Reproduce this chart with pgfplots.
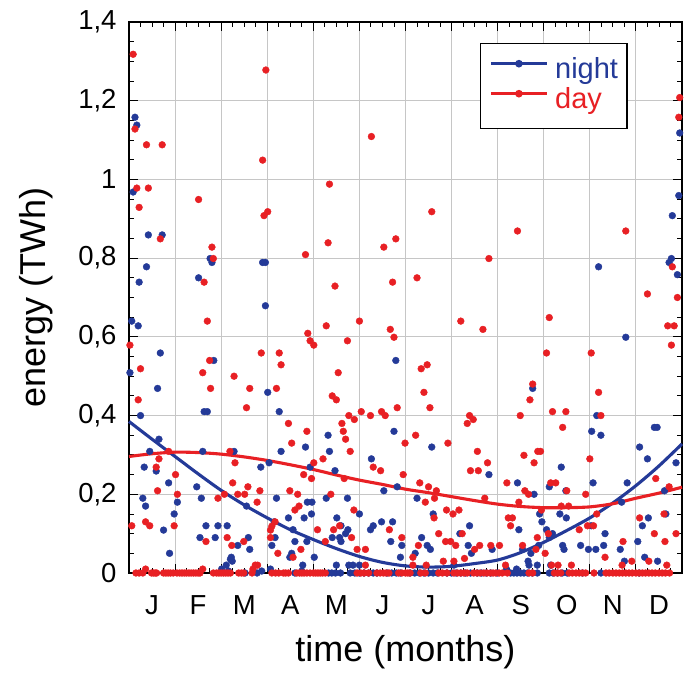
\documentclass[border=0pt]{standalone}
\usepackage{fontspec}
\setmainfont{Liberation Sans}
\usepackage{pgfplots}
\pgfplotsset{compat=1.18}
\definecolor{nightblue}{RGB}{36,58,152}
\definecolor{dayred}{RGB}{232,32,36}

\begin{document}
\begin{tikzpicture}
\useasboundingbox (-129bp,-102bp) rectangle (556bp,573bp);
\begin{axis}[
    at={(0,0)}, anchor=south west,
    width=553bp, height=551bp, scale only axis,
    xmin=0, xmax=12, ymin=0, ymax=1.4,
    clip=false,
    axis line style={black, line width=2.5bp},
    tick align=inside,
    tick style={black, line width=0.9bp},
    major tick length=9bp, minor tick length=5bp,
    xtick={0,1,...,12}, xticklabels={},
    minor x tick num=3,
    extra x ticks={0.5,1.5,...,11.5},
    extra x tick labels={J,F,M,A,M,J,J,A,S,O,N,D},
    extra x tick style={major tick length=0pt, grid=none},
    ytick={0,0.2,...,1.4},
    minor y tick num=3,
    grid=major,
    major grid style={gray!45, line width=0.9bp},
    ticklabel style={font=\fontsize{27.5bp}{30bp}\selectfont},
    xticklabel style={yshift=-19bp},
    yticklabel style={xshift=-9bp, /pgf/number format/.cd, use comma, fixed, assume math mode=true},
    xlabel={time (months)},
    ylabel={energy (TWh)},
    label style={font=\fontsize{36bp}{40bp}\selectfont, inner sep=0pt},
    xlabel style={at={([yshift=-62bp]axis description cs:0.5,0)}, anchor=north},
    ylabel style={at={([xshift=-110bp]axis description cs:0,0.5)}, rotate=0, anchor=north},
    legend style={at={(rel axis cs:0.902,0.962)}, anchor=north east,
        draw=black, line width=1.5bp, inner xsep=9bp, inner ysep=14bp,
        column sep=7bp, row sep=3bp,
        font=\fontsize{29bp}{32bp}\selectfont,
        nodes={inner sep=0pt, text height=21bp, text depth=6bp}},
    legend cell align=left,
    legend image code/.code={\draw[mark repeat=2,mark phase=2,#1] plot coordinates {(0bp,7.5bp) (28bp,7.5bp) (56bp,7.5bp)};},
]
% night scatter
\addplot[only marks, mark=*, mark size=3.4bp, color=nightblue, forget plot] coordinates {
(0.13,1.158) (0.17,1.138) (0.09,0.968) (0.42,0.859) (0.72,0.859) (1.76,0.799) (1.8,0.789) (2.9,0.789) (2.96,0.789) (0.38,0.778) (1.51,0.75) (0.22,0.739)
(11.95,1.118) (11.93,0.959) (11.79,0.908) (10.19,0.778) (11.77,0.799) (11.72,0.789) (11.9,0.758)
(0.06,0.64) (0.2,0.628) (0.68,0.559) (0.02,0.509) (0.62,0.469) (0.25,0.40) (1.84,0.54) (1.63,0.41) (1.7,0.41) (2.96,0.679) (3.01,0.459) (3.26,0.41)
(3.83,0.32) (3.3,0.309) (3.93,0.269) (3.87,0.18) (3.97,0.18) (3.96,0.15) (3.46,0.14) (3.8,0.14) (3.56,0.11) (3.6,0.08) (3.86,0.08) (3.49,0.04)
(3.53,0.05) (3.77,0.02) (3.15,0.13) (3.17,0.09) (3.1,0.07) (3.07,0.01) (3.2,0.19) (2.86,0.269) (3.04,0.28) (2.28,0.309) (2.55,0.17) (2.59,0.09)
(2.36,0.07) (2.62,0.06) (2.13,0.12) (1.93,0.12) (1.87,0.09) (1.67,0.12) (1.54,0.09) (1.57,0.19) (1.47,0.219) (1.6,0.309) (2.22,0.04) (2.24,0.03)
(2.2,0.035) (2.11,0.02) (1.05,0.18) (0.98,0.15) (0.86,0.229) (0.65,0.34) (0.59,0.259) (0.45,0.309) (0.33,0.269) (0.3,0.19) (0.36,0.17) (0.75,0.109) (0.88,0.05)
(2.01,0.01) (2.16,0.005) (2.52,0) (2.78,0) (2.88,0.005) (3.6,0) (3.75,0.005)
(5.79,0.54) (4.32,0.35) (4.35,0.309) (4.47,0.26) (5.26,0.29) (5.75,0.36) (5.82,0.219) (5.53,0.209) (6.57,0.32) (6.25,0.19) (7.81,0.25) (6.6,0.15)
(7.39,0.12) (7.18,0.10) (7.36,0.07) (7.43,0.05) (7.88,0.06) (7.05,0.02) (6.35,0.09) (6.47,0.07) (6.54,0.06) (6.21,0.05) (5.92,0.07) (5.89,0.04)
(5.72,0.13) (5.48,0.13) (5.68,0.08) (5.3,0.12) (5.24,0.11) (5.0,0.15) (4.74,0.19) (4.28,0.19) (4.51,0.14) (4.6,0.12) (4.7,0.10) (4.75,0.11)
(4.6,0.08) (4.57,0.09) (4.41,0.09) (4.02,0.04) (4.5,0.02) (4.77,0.02) (4.86,0.02) (5.0,0.02)
(10.78,0.599) (8.76,0.469) (10.15,0.40) (10.04,0.36) (10.24,0.35) (11.4,0.37) (11.46,0.37) (11.08,0.32) (11.25,0.29) (11.87,0.28) (9.38,0.269)
(8.43,0.229) (9.12,0.219) (10.07,0.229) (10.81,0.229) (11.62,0.209) (8.79,0.20) (9.48,0.209) (10.69,0.18) (8.91,0.15) (9.35,0.15) (11.65,0.15)
(11.27,0.14) (9.49,0.14) (8.96,0.13) (10.03,0.12) (11.14,0.12) (8.46,0.11) (9.06,0.11) (9.19,0.10) (9.12,0.09) (10.33,0.10) (8.54,0.06) (8.89,0.07)
(9.41,0.07) (9.44,0.06) (9.8,0.07) (9.97,0.06) (10.13,0.06) (10.3,0.07) (10.66,0.06) (11.04,0.08) (8.72,0.05) (11.19,0.04) (11.47,0.03) (10.75,0.03)
(8.66,0.03) (8.68,0.02) (8.86,0.02) (9.15,0.02) (8.19,0.01) (8.41,0.01)
(4.33,0) (4.4,0) (4.48,0) (4.59,0) (4.8,0) (4.9,0) (5.0,0) (5.1,0) (5.2,0) (5.3,0) (5.38,0) (5.6,0) (5.7,0) (5.8,0) (5.89,0)
(6.1,0) (6.2,0) (6.3,0) (6.4,0) (6.5,0) (6.6,0) (6.69,0) (6.9,0) (7.0,0) (7.1,0) (7.2,0) (7.3,0) (7.41,0) (7.56,0) (7.65,0) (7.75,0) (7.85,0) (7.99,0)
(8.28,0) (8.35,0) (8.42,0) (8.5,0) (8.57,0) (8.65,0) (8.75,0) (8.86,0) (9.12,0) (9.2,0) (9.3,0) (9.4,0) (9.51,0) (9.84,0) (10.24,0) (11.07,0)
};
% day scatter
\addplot[only marks, mark=*, mark size=3.4bp, color=dayred, forget plot] coordinates {
(0.09,1.318) (2.97,1.278) (0.13,1.128) (0.38,1.088) (0.72,1.088) (2.9,1.049) (0.17,0.978) (0.42,0.978) (1.51,0.949) (0.22,0.929) (3.01,0.918)
(2.93,0.908) (0.68,0.849) (1.8,0.828) (1.83,0.799) (3.83,0.809) (1.63,0.739)
(5.26,1.109) (4.35,0.988) (6.57,0.918) (4.32,0.839) (5.79,0.849) (5.53,0.828) (7.81,0.799) (4.47,0.729) (5.72,0.739) (6.25,0.75)
(11.95,1.208) (11.93,1.158) (8.43,0.869) (10.78,0.869) (11.79,0.778) (11.25,0.709) (11.9,0.70)
(0.02,0.579) (0.25,0.519) (0.2,0.44) (1.7,0.64) (1.75,0.54) (1.6,0.509) (1.77,0.469) (2.28,0.50) (2.62,0.469) (2.55,0.42) (2.87,0.559) (3.26,0.559)
(3.3,0.529) (3.2,0.469) (3.88,0.609) (3.93,0.59) (4.01,0.579) (3.46,0.38) (3.86,0.36) (3.53,0.33) (4.01,0.28) (3.79,0.25) (3.96,0.24) (3.49,0.209)
(3.66,0.20) (3.69,0.17) (3.6,0.16) (3.73,0.06) (3.56,0.04) (3.23,0.05) (3.07,0.109) (3.1,0.119) (3.17,0.13) (3.07,0.09) (2.84,0.209) (2.78,0.18)
(2.58,0.219) (2.51,0.20) (2.36,0.20) (2.25,0.229) (2.3,0.28) (2.19,0.309) (2.49,0.08) (2.23,0.07) (2.13,0.09) (1.67,0.08) (1.93,0.19) (2.07,0.20)
(2.79,0.02) (2.74,0.02) (2.69,0.01) (1.01,0.25) (1.05,0.20) (0.98,0.12) (0.86,0.309) (0.65,0.29) (0.59,0.269) (0.62,0.209) (0.36,0.13) (0.45,0.12)
(0.06,0.12) (0.36,0.01) (1.6,0.01)
(4.28,0.628) (5.0,0.64) (4.74,0.59) (5.67,0.619) (5.75,0.599) (4.54,0.509) (4.41,0.45) (4.5,0.44) (6.34,0.519) (6.47,0.529) (6.4,0.459) (6.53,0.42)
(5.82,0.42) (7.2,0.64) (7.68,0.619) (4.77,0.40) (4.89,0.39) (5.04,0.41) (5.24,0.40) (5.48,0.41) (5.56,0.40) (4.62,0.38) (4.65,0.36) (4.7,0.34)
(4.8,0.309) (4.21,0.29) (4.67,0.24) (5.3,0.269) (5.46,0.26) (5.99,0.33) (6.22,0.35) (5.95,0.25) (6.31,0.229) (6.5,0.219) (6.67,0.209) (6.63,0.19)
(6.43,0.18) (6.92,0.33) (7.39,0.40) (7.34,0.38) (7.47,0.39) (7.56,0.309) (7.78,0.28) (7.41,0.26) (7.58,0.26) (7.72,0.19) (6.62,0.14) (6.89,0.16)
(7.03,0.15) (7.16,0.16) (7.23,0.10) (6.72,0.10) (6.87,0.08) (6.98,0.08) (7.09,0.07) (7.5,0.06) (7.61,0.07) (7.85,0.07) (6.82,0.03) (7.05,0.03)
(7.28,0.037) (6.28,0.07) (6.16,0.04) (6.45,0.02) (6.16,0.02) (5.92,0.09) (5.65,0.11) (4.88,0.16) (4.38,0.20) (4.57,0.12) (4.44,0.11) (4.09,0.11)
(4.26,0.08) (4.83,0.09) (4.95,0.06) (5.13,0.06) (5.13,0.02)
(9.12,0.649) (11.69,0.628) (11.83,0.628) (11.77,0.579) (9.06,0.559) (10.03,0.559) (8.76,0.48) (8.7,0.44) (10.19,0.459) (8.49,0.40) (9.19,0.41)
(9.48,0.41) (10.24,0.40) (9.41,0.37) (8.57,0.299) (8.87,0.309) (8.93,0.309) (8.79,0.28) (10.0,0.29) (8.2,0.229) (9.15,0.229) (9.26,0.229) (11.43,0.24)
(11.72,0.219) (8.59,0.209) (8.67,0.20) (9.5,0.209) (9.91,0.20) (8.46,0.18) (9.38,0.17) (9.54,0.17) (8.95,0.16) (10.15,0.15) (11.61,0.15) (8.23,0.14)
(8.32,0.14) (11.08,0.14) (8.28,0.12) (9.95,0.12) (10.08,0.12) (9.1,0.10) (9.77,0.11) (11.4,0.10) (11.87,0.10) (8.86,0.09) (8.04,0.07) (8.54,0.07)
(10.72,0.08) (11.63,0.08) (8.83,0.06) (9.03,0.05) (10.33,0.04) (11.28,0.03) (10.91,0.03) (8.17,0.02) (9.17,0.02) (9.31,0.02) (9.6,0.02) (10.7,0.02) (11.67,0.02)
(0.15,0) (0.22,0) (0.3,0) (0.49,0) (0.53,0) (0.57,0) (0.6,0) (0.75,0) (0.8,0) (0.85,0) (0.9,0) (0.96,0) (1.04,0) (1.1,0) (1.15,0) (1.2,0) (1.25,0)
(1.3,0) (1.35,0) (1.4,0) (1.45,0) (1.5,0) (1.54,0) (1.83,0) (1.9,0) (1.95,0) (2.0,0) (2.05,0) (2.1,0) (2.15,0) (2.2,0) (2.38,0) (2.44,0) (2.49,0)
(2.67,0) (3.1,0) (3.18,0) (3.25,0) (3.35,0) (3.4,0) (3.46,0) (3.64,0) (3.7,0) (3.75,0) (3.8,0) (3.86,0) (3.93,0) (4.0,0) (4.05,0) (4.1,0) (4.15,0)
(4.2,0) (4.26,0) (4.95,0) (5.03,0) (5.1,0) (5.2,0) (5.38,0) (5.45,0) (5.52,0) (5.58,0) (5.64,0) (5.85,0) (5.92,0) (6.0,0) (6.05,0) (6.1,0) (6.33,0)
(6.43,0) (6.72,0) (6.8,0) (6.9,0) (7.05,0) (7.13,0) (7.2,0) (7.27,0) (7.34,0) (7.48,0) (7.55,0) (7.62,0) (7.7,0) (7.77,0) (7.84,0) (7.9,0) (7.96,0)
(8.03,0) (8.1,0) (8.21,0) (8.68,0) (8.76,0) (9.23,0) (9.3,0) (9.37,0) (9.55,0) (9.62,0) (9.7,0) (9.77,0) (9.84,0) (9.91,0) (10.09,0) (10.35,0)
(10.42,0) (10.5,0) (10.57,0) (10.64,0) (10.71,0) (10.78,0) (10.85,0) (10.92,0) (11.0,0) (11.07,0) (11.14,0) (11.21,0) (11.28,0) (11.35,0) (11.42,0)
(11.5,0) (11.57,0) (11.64,0) (11.73,0)
};
% fitted curves
\addplot[nightblue, line width=3.1bp, smooth, forget plot] coordinates {
(0,0.385) (0.5,0.34) (1,0.296) (1.5,0.252) (2,0.21) (2.5,0.173) (3,0.14) (3.5,0.11) (4,0.085) (4.5,0.062) (5,0.042) (5.5,0.027) (6,0.018)
(6.5,0.015) (7,0.017) (7.5,0.024) (8,0.033) (8.5,0.052) (9,0.078) (9.5,0.108) (10,0.14) (10.5,0.178) (11,0.222) (11.5,0.272) (12,0.328)
};
\addplot[dayred, line width=3.1bp, smooth, forget plot] coordinates {
(0,0.296) (0.5,0.303) (1,0.307) (1.5,0.306) (2,0.302) (2.5,0.295) (3,0.286) (3.5,0.275) (4,0.263) (4.5,0.249) (5,0.236) (5.5,0.225) (6,0.213)
(6.5,0.204) (7,0.194) (7.5,0.184) (8,0.175) (8.5,0.169) (9,0.166) (9.5,0.166) (10,0.168) (10.5,0.176) (11,0.19) (11.5,0.203) (12,0.218)
};
\addlegendimage{nightblue, line width=2.5bp, mark=*, mark size=2.5bp}
\addlegendentry{\textcolor{nightblue}{night}}
\addlegendimage{dayred, line width=2.5bp, mark=*, mark size=2.5bp}
\addlegendentry{\textcolor{dayred}{day}}
\end{axis}
\end{tikzpicture}
\end{document}
